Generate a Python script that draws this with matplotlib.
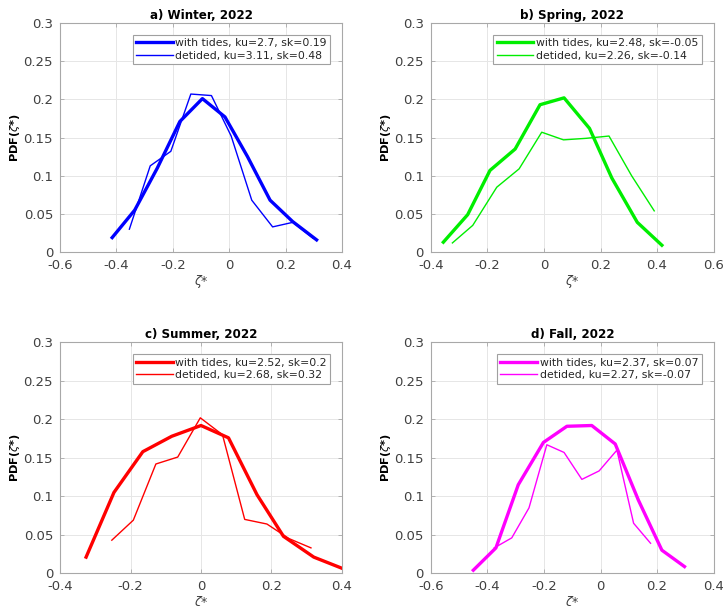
import matplotlib
matplotlib.use("Agg")
import matplotlib.pyplot as plt

# ---- data ----
titles = ["a) Winter, 2022", "b) Spring, 2022", "c) Summer, 2022", "d) Fall, 2022"]
colors = ["#0000ff", "#00ee00", "#ff0000", "#ff00ff"]
labels_tides = ["with tides, ku=2.7, sk=0.19", "with tides, ku=2.48, sk=-0.05",
                "with tides, ku=2.52, sk=0.2", "with tides, ku=2.37, sk=0.07"]
labels_detided = ["detided, ku=3.11, sk=0.48", "detided, ku=2.26, sk=-0.14",
                  "detided, ku=2.68, sk=0.32", "detided, ku=2.27, sk=-0.07"]
xlims = [(-0.6, 0.4), (-0.4, 0.6), (-0.4, 0.4), (-0.6, 0.4)]

winter_x_t = [-0.415, -0.335, -0.255, -0.175, -0.095, -0.015, 0.065, 0.145, 0.225, 0.31]
winter_y_t = [0.019, 0.055, 0.110, 0.171, 0.201, 0.177, 0.125, 0.068, 0.040, 0.016]
winter_x_d = [-0.354, -0.28, -0.207, -0.136, -0.063, 0.007, 0.08, 0.154, 0.226, 0.298]
winter_y_d = [0.030, 0.113, 0.132, 0.207, 0.205, 0.152, 0.068, 0.033, 0.039, 0.018]

spring_x_t = [-0.356, -0.27, -0.191, -0.102, -0.014, 0.071, 0.161, 0.24, 0.33, 0.417]
spring_y_t = [0.013, 0.049, 0.107, 0.135, 0.193, 0.202, 0.162, 0.097, 0.039, 0.009]
spring_x_d = [-0.324, -0.252, -0.167, -0.088, -0.008, 0.069, 0.149, 0.23, 0.31, 0.39]
spring_y_d = [0.012, 0.035, 0.085, 0.109, 0.157, 0.147, 0.149, 0.152, 0.100, 0.054]

summer_x_t = [-0.326, -0.247, -0.165, -0.083, 0.0, 0.078, 0.159, 0.234, 0.32, 0.4]
summer_y_t = [0.021, 0.105, 0.158, 0.178, 0.192, 0.176, 0.102, 0.048, 0.021, 0.0065]
summer_x_d = [-0.253, -0.192, -0.128, -0.066, -0.002, 0.061, 0.124, 0.187, 0.25, 0.312]
summer_y_d = [0.043, 0.069, 0.142, 0.151, 0.202, 0.180, 0.070, 0.064, 0.045, 0.033]

fall_x_t = [-0.45, -0.37, -0.291, -0.202, -0.119, -0.031, 0.052, 0.134, 0.217, 0.297]
fall_y_t = [0.004, 0.033, 0.115, 0.170, 0.191, 0.192, 0.168, 0.095, 0.030, 0.0087]
fall_x_d = [-0.376, -0.314, -0.253, -0.19, -0.129, -0.066, -0.005, 0.058, 0.117, 0.177]
fall_y_d = [0.033, 0.046, 0.085, 0.167, 0.157, 0.122, 0.133, 0.160, 0.065, 0.039]

series = [
    (winter_x_t, winter_y_t, winter_x_d, winter_y_d),
    (spring_x_t, spring_y_t, spring_x_d, spring_y_d),
    (summer_x_t, summer_y_t, summer_x_d, summer_y_d),
    (fall_x_t, fall_y_t, fall_x_d, fall_y_d),
]

# ---- layout ----
fig = plt.figure(figsize=(7.23, 6.06), dpi=100)
positions = [
    [0.083, 0.584, 0.390, 0.378],
    [0.596, 0.584, 0.391, 0.378],
    [0.083, 0.054, 0.390, 0.381],
    [0.596, 0.054, 0.391, 0.381],
]
tick_col = "#404040"
for i in range(4):
    ax = fig.add_axes(positions[i])
    xt, yt, xd, yd = series[i]
    ax.plot(xt, yt, color=colors[i], lw=2.4, label=labels_tides[i], solid_joinstyle="round")
    ax.plot(xd, yd, color=colors[i], lw=1.0, label=labels_detided[i])
    ax.set_xlim(*xlims[i])
    ax.set_ylim(0, 0.3)
    x0, x1 = xlims[i]
    n = int(round((x1 - x0) / 0.2))
    xticks = [round(x0 + 0.2 * k, 1) for k in range(n + 1)]
    ax.set_xticks(xticks)
    ax.set_xticklabels([("%g" % v) for v in xticks])
    yticks = [0, 0.05, 0.1, 0.15, 0.2, 0.25, 0.3]
    ax.set_yticks(yticks)
    ax.set_yticklabels([("%g" % v) for v in yticks])
    ax.grid(True, color="#e6e6e6", lw=0.7)
    ax.set_axisbelow(True)
    for s in ax.spines.values():
        s.set_color("#a8a8a8")
        s.set_linewidth(0.8)
    ax.tick_params(direction="in", length=3, width=0.6, color="#a8a8a8",
                   labelsize=9.5, labelcolor=tick_col, top=True, right=True)
    ax.tick_params(axis="y", pad=5)
    ax.tick_params(axis="x", pad=5)
    ax.set_title(titles[i], fontsize=8.6, fontweight="bold", pad=3)
    ax.set_ylabel(r"PDF($\zeta$*)", fontsize=8.2, fontweight="bold", labelpad=1)
    ax.set_xlabel(r"$\zeta$*", fontsize=9.0, color=tick_col, labelpad=0.5)
    leg = ax.legend(loc="upper right", fontsize=7.8, handlelength=3.4, handletextpad=0.25,
                    borderpad=0.3, labelspacing=0.25, fancybox=False, framealpha=1,
                    borderaxespad=1.1)
    leg.get_frame().set_edgecolor("#a0a0a0")
    leg.get_frame().set_linewidth(0.8)
    for t in leg.get_texts():
        t.set_color("#262626")

fig.savefig("out.png", dpi=100, facecolor="white")
